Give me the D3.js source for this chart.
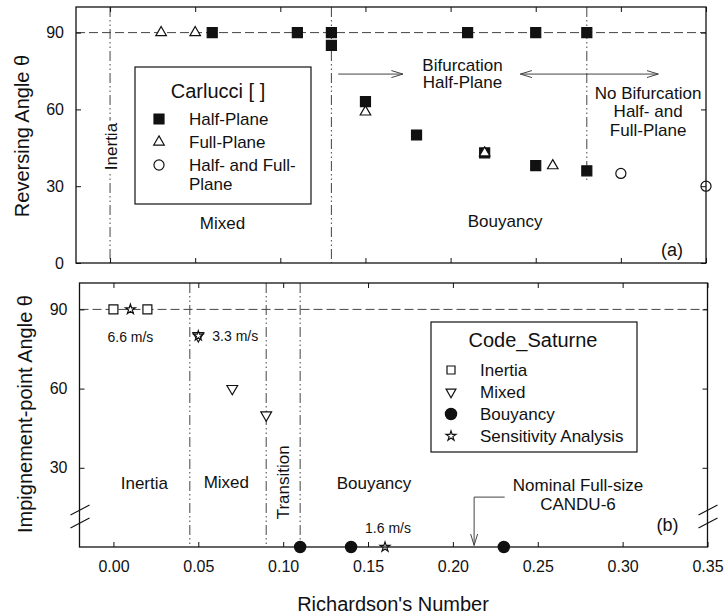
<!DOCTYPE html>
<html>
<head>
<meta charset="utf-8">
<script src="https://cdn.jsdelivr.net/npm/d3@7"></script>
<style>
  body { margin: 0; background: #fff; }
  svg { font-family: "Liberation Sans", Arial, Helvetica, sans-serif; }
</style>
</head>
<body>
<svg id="chart" width="725" height="615"></svg>
<script>
// ---- axis ticks ----
const riTicks = [0.00, 0.05, 0.10, 0.15, 0.20, 0.25, 0.30, 0.35];
const thetaTicksTop = [0, 30, 60, 90];
const thetaTicksBottom = [30, 60, 90];

// ---- (a) Carlucci: reversing angle ----
const halfPlaneRi    = [0.06, 0.11, 0.13, 0.13, 0.15, 0.18, 0.21, 0.22, 0.25, 0.25, 0.28, 0.28];
const halfPlaneTheta = [90,   90,   90,   85,   63,   50,   90,   43,   90,   38,   90,   36];
const fullPlaneRi    = [0.03, 0.05, 0.15, 0.22, 0.26];
const fullPlaneTheta = [90,   90,   59,   43,   38];
const bothPlaneRi    = [0.30, 0.35];
const bothPlaneTheta = [35,   30];

// ---- (b) Code_Saturne: impingement-point angle ----
const inertiaRi      = [0.00, 0.02];
const inertiaTheta   = [90,   90];
const mixedRi        = [0.05, 0.07, 0.09];
const mixedTheta     = [80,   60,   50];
const buoyRi         = [0.11, 0.14, 0.23];
const buoyTheta      = [0,    0,    0];
const sensRi         = [0.01, 0.05, 0.16];
const sensTheta      = [90,   80,   0];
const sensLabels     = ["6.6 m/s", "3.3 m/s", "1.6 m/s"];

// ---- regime boundaries ----
const topBounds      = [0.00, 0.13];
const bifurcationRi  = 0.28;
const bifurcationLow = 32;
const bottomBounds   = [0.045, 0.09, 0.11];
const nominalRi      = 0.2125;

const svg = d3.select("#chart");
const FONT = '"Liberation Sans", Arial, Helvetica, sans-serif';
const INK = "#111";
const GUIDE = "#444";
const dashDotDot = "10,3,1.5,3,1.5,3";

// scales
const xTop = d3.scaleLinear().domain([-0.02, 0.35]).range([76, 706]);
const yTop = d3.scaleLinear().domain([0, 100]).range([263, 7]);
const xBot = d3.scaleLinear().domain([-0.02, 0.35]).range([79.5, 707.5]);
const yBot = d3.scaleLinear().domain([0, 100]).range([547, 283]);

// arrow head markers
const defs = svg.append("defs");
function arrowDef(id) {
  defs.append("marker").attr("id", id)
    .attr("viewBox", "0 0 12 10").attr("refX", 11.5).attr("refY", 5)
    .attr("markerWidth", 12).attr("markerHeight", 10).attr("markerUnits", "userSpaceOnUse")
    .attr("orient", "auto-start-reverse")
    .append("path").attr("d", "M0,1.5 L11.5,5 L0,8.5")
    .attr("fill", "none").attr("stroke", GUIDE).attr("stroke-width", 1);
}
arrowDef("arr");

function text(g, x, y, s, size, anchor = "middle", rotate = false) {
  const t = g.append("text")
    .attr("font-family", FONT).attr("font-size", size)
    .attr("fill", INK).attr("text-anchor", anchor).attr("dy", "0.35em")
    .text(s);
  if (rotate) t.attr("transform", `translate(${x},${y}) rotate(-90)`);
  else t.attr("x", x).attr("y", y);
  return t;
}

function symbol(g, type, x, y, size, filled, rot = 0) {
  return g.append("path")
    .attr("d", d3.symbol().type(type).size(size)())
    .attr("transform", `translate(${x},${y}) rotate(${rot})`)
    .attr("fill", filled ? INK : "#fff")
    .attr("stroke", INK).attr("stroke-width", 1.2);
}

function frameAndAxes(g, x, y, yTicks, showX) {
  const [x0, x1] = x.range();
  const [y0, y1] = y.range();
  const style = a => a.attr("font-family", FONT).attr("font-size", 16)
    .call(s => s.select(".domain").remove())
    .call(s => s.selectAll(".tick line").attr("stroke", INK))
    .call(s => s.selectAll("text").attr("fill", INK));
  g.append("g").attr("transform", `translate(0,${y0})`)
    .call(d3.axisBottom(x).tickValues(riTicks).tickSize(-5).tickPadding(14)
      .tickFormat(showX ? d3.format(".2f") : () => ""))
    .call(style);
  g.append("g").attr("transform", `translate(0,${y1})`)
    .call(d3.axisTop(x).tickValues(riTicks).tickSize(-5).tickFormat(() => ""))
    .call(style);
  g.append("g").attr("transform", `translate(${x0},0)`)
    .call(d3.axisLeft(y).tickValues(yTicks).tickSize(-5).tickPadding(12).tickFormat(d3.format("d")))
    .call(style);
  g.append("g").attr("transform", `translate(${x1},0)`)
    .call(d3.axisRight(y).tickValues(yTicks).tickSize(-5).tickFormat(() => ""))
    .call(style);
  g.append("rect").attr("x", x0).attr("y", y1).attr("width", x1 - x0).attr("height", y0 - y1)
    .attr("fill", "none").attr("stroke", INK).attr("stroke-width", 1.3);
}

// =================== panel (a) ===================
const gA = svg.append("g");

// 90° reference line
gA.append("line").attr("x1", xTop(-0.02)).attr("x2", xTop(0.35))
  .attr("y1", yTop(90)).attr("y2", yTop(90))
  .attr("stroke", GUIDE).attr("stroke-width", 1).attr("stroke-dasharray", "9,4");

// regime boundaries
gA.selectAll("line.bound").data(topBounds).join("line").attr("class", "bound")
  .attr("x1", d => xTop(d)).attr("x2", d => xTop(d))
  .attr("y1", yTop(100)).attr("y2", yTop(0))
  .attr("stroke", GUIDE).attr("stroke-width", 1).attr("stroke-dasharray", dashDotDot);
gA.append("line")
  .attr("x1", xTop(bifurcationRi)).attr("x2", xTop(bifurcationRi))
  .attr("y1", yTop(100)).attr("y2", yTop(bifurcationLow))
  .attr("stroke", GUIDE).attr("stroke-width", 1).attr("stroke-dasharray", dashDotDot);

// regime labels
{
  const t = text(gA, xTop(0.0005), yTop(45.5), "Inertia", 17, "middle", true);
  const b = t.node().getBBox();
  gA.insert("rect", "text").attr("x", xTop(0.0005) - b.height / 2 + 1).attr("y", yTop(45.5) - b.width / 2 - 2)
    .attr("width", b.height - 2).attr("height", b.width + 4).attr("fill", "#fff");
}
text(gA, xTop(0.066), yTop(15.5), "Mixed", 17);
text(gA, xTop(0.232), yTop(16.5), "Bouyancy", 17);
text(gA, xTop(0.207), yTop(77.5), "Bifurcation", 17);
text(gA, xTop(0.207), yTop(70.5), "Half-Plane", 17);
text(gA, xTop(0.316), yTop(66.5), "No Bifurcation", 17);
text(gA, xTop(0.316), yTop(59.2), "Half- and", 17);
text(gA, xTop(0.316), yTop(51.8), "Full-Plane", 17);
text(gA, xTop(0.330), yTop(5.2), "(a)", 18);

// arrows
gA.append("line").attr("x1", xTop(0.134)).attr("x2", xTop(0.172))
  .attr("y1", yTop(73.8)).attr("y2", yTop(73.8))
  .attr("stroke", GUIDE).attr("stroke-width", 1).attr("marker-end", "url(#arr)");
gA.append("line").attr("x1", xTop(0.241)).attr("x2", xTop(0.322))
  .attr("y1", yTop(73.8)).attr("y2", yTop(73.8))
  .attr("stroke", GUIDE).attr("stroke-width", 1)
  .attr("marker-start", "url(#arr)").attr("marker-end", "url(#arr)");

// data marks
halfPlaneRi.forEach((r, i) => symbol(gA, d3.symbolSquare, xTop(r), yTop(halfPlaneTheta[i]), 100, true));
fullPlaneRi.forEach((r, i) => symbol(gA, d3.symbolTriangle, xTop(r), yTop(fullPlaneTheta[i]), 48, false));
bothPlaneRi.forEach((r, i) => symbol(gA, d3.symbolCircle, xTop(r), yTop(bothPlaneTheta[i]), 80, false));

frameAndAxes(gA, xTop, yTop, thetaTicksTop, false);

// legend (a)
{
  const lg = gA.append("g");
  lg.append("rect").attr("x", 135).attr("y", 67).attr("width", 176).attr("height", 137)
    .attr("fill", "#fff").attr("stroke", INK).attr("stroke-width", 1.2);
  text(lg, 218, 91, "Carlucci [ ]", 20);
  const rows = [
    [d3.symbolSquare, 100, true, "Half-Plane", 119],
    [d3.symbolTriangle, 48, false, "Full-Plane", 142],
    [d3.symbolCircle, 80, false, "Half- and Full-", 165],
  ];
  rows.forEach(([t, s, f, label, y]) => {
    symbol(lg, t, 159, y, s, f);
    text(lg, 189, y, label, 17, "start");
  });
  text(lg, 189, 184, "Plane", 17, "start");
}

// y title (a)
text(svg, 22, 136, "Reversing Angle \u03B8", 20, "middle", true);

// =================== panel (b) ===================
const gB = svg.append("g");

gB.append("line").attr("x1", xBot(-0.02)).attr("x2", xBot(0.35))
  .attr("y1", yBot(90)).attr("y2", yBot(90))
  .attr("stroke", GUIDE).attr("stroke-width", 1).attr("stroke-dasharray", "9,4");

gB.selectAll("line.bound").data(bottomBounds).join("line").attr("class", "bound")
  .attr("x1", d => xBot(d)).attr("x2", d => xBot(d))
  .attr("y1", yBot(100)).attr("y2", yBot(0))
  .attr("stroke", GUIDE).attr("stroke-width", 1).attr("stroke-dasharray", dashDotDot);

text(gB, xBot(0.0182), yBot(24.2), "Inertia", 17);
text(gB, xBot(0.0665), yBot(24.5), "Mixed", 17);
text(gB, xBot(0.0998), yBot(24.5), "Transition", 17, "middle", true);
text(gB, xBot(0.1535), yBot(24.2), "Bouyancy", 17);
text(gB, xBot(0.2737), yBot(23.5), "Nominal Full-size", 17);
text(gB, xBot(0.2737), yBot(16.3), "CANDU-6", 17);
text(gB, xBot(0.3265), yBot(8.3), "(b)", 18);

// nominal CANDU-6 pointer
gB.append("path")
  .attr("d", `M${xBot(0.2305)},${yBot(18.9)} H${xBot(nominalRi)} V${yBot(0.6)}`)
  .attr("fill", "none").attr("stroke", GUIDE).attr("stroke-width", 1)
  .attr("marker-end", "url(#arr)");

// data marks
inertiaRi.forEach((r, i) => symbol(gB, d3.symbolSquare, xBot(r), yBot(inertiaTheta[i]), 80, false));
mixedRi.forEach((r, i) => symbol(gB, d3.symbolTriangle, xBot(r), yBot(mixedTheta[i]), 50, false, 180));
buoyRi.forEach((r, i) => symbol(gB, d3.symbolCircle, xBot(r), yBot(buoyTheta[i]), 100, true));
sensRi.forEach((r, i) => symbol(gB, d3.symbolStar, xBot(r), yBot(sensTheta[i]), 30, false));

// velocity annotations on the sensitivity runs
text(gB, xBot(sensRi[0]), yBot(sensTheta[0]) + 28, sensLabels[0], 14);
text(gB, xBot(sensRi[1]) + 14, yBot(sensTheta[1]), sensLabels[1], 14, "start");
text(gB, xBot(sensRi[2]) + 3, yBot(sensTheta[2]) - 19, sensLabels[2], 14);

frameAndAxes(gB, xBot, yBot, thetaTicksBottom, true);

// axis break marks
[xBot(-0.02), xBot(0.35)].forEach(bx => {
  [0, 13].forEach(off => {
    gB.append("line")
      .attr("x1", bx - 9).attr("y1", yBot(14) + off + 5)
      .attr("x2", bx + 10).attr("y2", yBot(14) + off - 5)
      .attr("stroke", INK).attr("stroke-width", 1.1);
  });
});

// legend (b)
{
  const lg = gB.append("g");
  lg.append("rect").attr("x", 431).attr("y", 322).attr("width", 206).attr("height", 130)
    .attr("fill", "#fff").attr("stroke", INK).attr("stroke-width", 1.2);
  text(lg, 533, 340, "Code_Saturne", 20);
  const rows = [
    [d3.symbolSquare, 64, false, 0, "Inertia", 370],
    [d3.symbolTriangle, 42, false, 180, "Mixed", 392],
    [d3.symbolCircle, 100, true, 0, "Bouyancy", 414],
    [d3.symbolStar, 30, false, 0, "Sensitivity Analysis", 436],
  ];
  rows.forEach(([t, s, f, rot, label, y]) => {
    symbol(lg, t, 451, y, s, f, rot);
    text(lg, 480, y, label, 17, "start");
  });
}

// titles
text(svg, 25, 414, "Impignement-point Angle \u03B8", 20, "middle", true);
text(svg, 393, 604, "Richardson's Number", 20);
</script>
</body>
</html>
